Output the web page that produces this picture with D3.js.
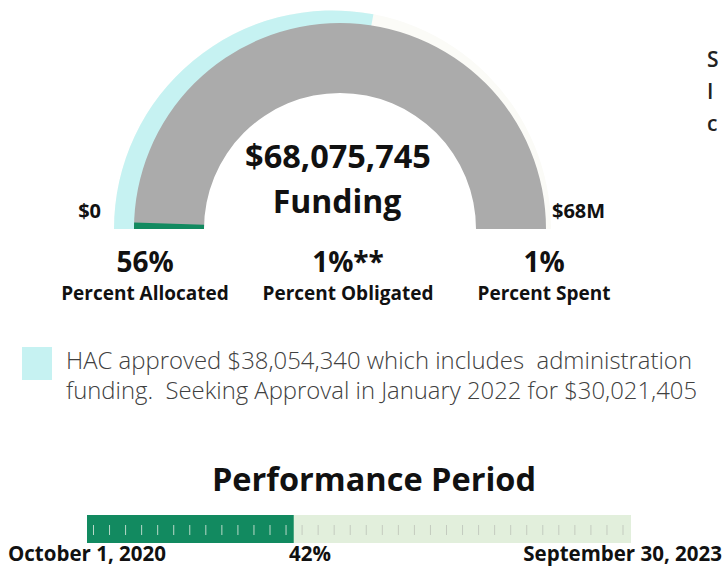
<!DOCTYPE html>
<html>
<head>
<meta charset="utf-8">
<script src="https://cdn.jsdelivr.net/npm/d3@7"></script>
<style>
  body { margin: 0; background: #fff; }
  svg { display: block; font-family: "Open Sans", sans-serif; }
</style>
</head>
<body>
<div id="chart"></div>
<script>
(function() {
var WIDTH = 724;
var HEIGHT = 567;

// gauge data
var totalFunding = 68075745;
var gaugeEnds = ['$0', '$68M'];
var allocatedPct = 56;
var spentPct = 1;

// stats under the gauge
var statValues = ['56%', '1%**', '1%'];
var statLabels = ['Percent Allocated', 'Percent Obligated', 'Percent Spent'];

// legend
var legendLines = [
  'HAC approved $38,054,340 which includes  administration',
  'funding.  Seeking Approval in January 2022 for $30,021,405'
];
var legendWidths = [626, 631];

// side note, cut off by the page edge
var sideLetters = ['S', 'I', 'c'];

// performance period
var periodTitle = 'Performance Period';
var periodLabels = ['October 1, 2020', '42%', 'September 30, 2023'];
var elapsedPct = 38;
var periodSteps = 34;

var svg = d3.select('#chart').append('svg')
  .attr('width', WIDTH)
  .attr('height', HEIGHT);

var angle = d3.scaleLinear().domain([0, 100]).range([-Math.PI / 2, Math.PI / 2]);

// outer ring (allocated), slightly off-centre from the main gauge
var ring = svg.append('g').attr('transform', 'translate(332.5,229)');
var ringArc = d3.arc().innerRadius(180).outerRadius(218.5);

ring.append('path')
  .attr('d', ringArc({startAngle: angle(0), endAngle: angle(100)}))
  .attr('fill', '#fbfbf7');
ring.append('path')
  .attr('d', ringArc({startAngle: angle(0), endAngle: angle(allocatedPct)}))
  .attr('fill', '#c6f2f2');

// main gauge
var gauge = svg.append('g').attr('transform', 'translate(340,229)');
var gaugeArc = d3.arc().innerRadius(136).outerRadius(206);

gauge.append('path')
  .attr('d', gaugeArc({startAngle: angle(0), endAngle: angle(100)}))
  .attr('fill', '#ababab');
gauge.append('path')
  .attr('d', gaugeArc({startAngle: angle(0), endAngle: angle(spentPct)}))
  .attr('fill', '#128a60');

svg.append('text')
  .attr('x', 338).attr('y', 168)
  .attr('text-anchor', 'middle')
  .attr('font-size', 32.5).attr('font-weight', 700).attr('fill', '#111')
  .text('$' + d3.format(',')(totalFunding));
svg.append('text')
  .attr('x', 337).attr('y', 213)
  .attr('text-anchor', 'middle')
  .attr('font-size', 32).attr('font-weight', 700).attr('fill', '#111')
  .text('Funding');

svg.selectAll('.end')
  .data(gaugeEnds)
  .enter().append('text')
  .attr('x', function(d, i) { return i ? 552 : 101; })
  .attr('y', 218)
  .attr('text-anchor', function(d, i) { return i ? 'start' : 'end'; })
  .attr('font-size', 20).attr('font-weight', 700).attr('fill', '#111')
  .text(function(d) { return d; });

// stats
var statX = [145, 348, 544];
svg.selectAll('.statval')
  .data(statValues)
  .enter().append('text')
  .attr('x', function(d, i) { return statX[i]; })
  .attr('y', 272)
  .attr('text-anchor', 'middle')
  .attr('font-size', 28).attr('font-weight', 700).attr('fill', '#111')
  .text(function(d) { return d; });
svg.selectAll('.statlab')
  .data(statLabels)
  .enter().append('text')
  .attr('x', function(d, i) { return statX[i]; })
  .attr('y', 300)
  .attr('text-anchor', 'middle')
  .attr('font-size', 19).attr('font-weight', 700).attr('fill', '#111')
  .text(function(d) { return d; });

// legend
svg.append('rect')
  .attr('x', 22).attr('y', 347)
  .attr('width', 30).attr('height', 33)
  .attr('fill', '#c6f2f2');
svg.selectAll('.leg')
  .data(legendLines)
  .enter().append('text')
  .attr('x', 66)
  .attr('y', function(d, i) { return 369 + i * 30; })
  .attr('font-size', 23).attr('font-weight', 300).attr('fill', '#404040')
  .attr('textLength', function(d, i) { return legendWidths[i]; })
  .attr('lengthAdjust', 'spacingAndGlyphs')
  .style('white-space', 'pre')
  .text(function(d) { return d; });

// side note letters
svg.selectAll('.side')
  .data(sideLetters)
  .enter().append('text')
  .attr('x', 707)
  .attr('y', function(d, i) { return 67 + i * 32; })
  .attr('font-size', 21).attr('font-weight', 600).attr('fill', '#222')
  .text(function(d) { return d; });

// performance period
svg.append('text')
  .attr('x', 374).attr('y', 491)
  .attr('text-anchor', 'middle')
  .attr('font-size', 32.5).attr('font-weight', 700).attr('fill', '#111')
  .text(periodTitle);

var x = d3.scaleLinear().domain([0, 100]).range([87, 631]);
svg.append('rect')
  .attr('x', x(0)).attr('y', 515)
  .attr('width', x(100) - x(0)).attr('height', 28)
  .attr('fill', '#e2efdc');
svg.append('rect')
  .attr('x', x(0)).attr('y', 515)
  .attr('width', x(elapsedPct) - x(0)).attr('height', 28)
  .attr('fill', '#128a60');

var step = d3.scaleLinear().domain([0, periodSteps - 1]).range([93.5, 623]);
svg.selectAll('.tick')
  .data(d3.range(periodSteps))
  .enter().append('line')
  .attr('x1', function(d) { return step(d); })
  .attr('x2', function(d) { return step(d); })
  .attr('y1', 525).attr('y2', 535)
  .attr('stroke', function(d) { return step(d) < x(elapsedPct) ? '#b9d9c8' : '#c4cbbf'; })
  .attr('stroke-width', 1);

svg.append('text')
  .attr('x', 8).attr('y', 561)
  .attr('font-size', 20.5).attr('font-weight', 700).attr('fill', '#111')
  .text(periodLabels[0]);
svg.append('text')
  .attr('x', 289).attr('y', 561)
  .attr('font-size', 20.5).attr('font-weight', 700).attr('fill', '#111')
  .text(periodLabels[1]);
svg.append('text')
  .attr('x', 722).attr('y', 561)
  .attr('text-anchor', 'end')
  .attr('font-size', 20.5).attr('font-weight', 700).attr('fill', '#111')
  .text(periodLabels[2]);
})();
</script>
</body>
</html>
